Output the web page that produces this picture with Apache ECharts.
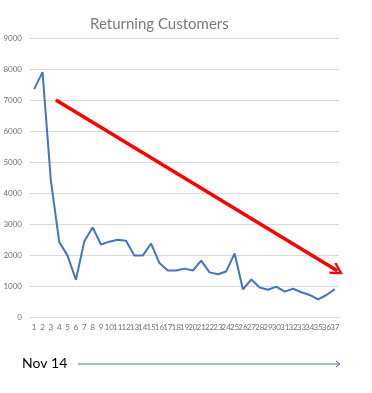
<!DOCTYPE html>
<html><head><meta charset="utf-8">
<script src="https://cdn.jsdelivr.net/npm/echarts@6/dist/echarts.min.js"></script>
<style>html,body{margin:0;padding:0;background:#fff}#c{width:372px;height:393px}</style>
</head><body><div id="c"></div>
<script>
var categories = ['1','2','3','4','5','6','7','8','9','10','11','12','13','14','15','16','17','18','19','20','21','22','23','24','25','26','27','28','29','30','31','32','33','34','35','36','37'];
var customers = [7350,7900,4400,2420,1980,1200,2440,2890,2340,2430,2490,2460,1980,1980,2370,1740,1500,1500,1560,1500,1820,1440,1380,1470,2050,890,1210,950,880,980,820,910,800,710,570,710,900];
var yTicks = [0,1000,2000,3000,4000,5000,6000,7000,8000,9000];
var trendStart = [3.6, 7000];
var trendEnd = [37.3, 1490];
var titleText = 'Returning Customers';
var periodText = 'Nov 14';

var chart = echarts.init(document.getElementById('c'), null, {renderer:'canvas'});
var arrowPath = 'path://M0,0 L10,13 L7.5,15 L0,5 L-7.5,15 L-10,13 Z';
chart.setOption({
  animation:false,
  title:{text:titleText, left:85, top:12,
    textStyle:{fontFamily:'Lato', fontSize:15, fontWeight:'normal', color:'#7a7a7a'}},
  grid:{left:30, right:33, top:38, bottom:76},
  xAxis:[{type:'category', data:categories, boundaryGap:true,
    axisLine:{show:true, lineStyle:{color:'#d9d9d9'}}, axisTick:{show:false},
    axisLabel:{interval:0, fontSize:8, color:'#707070', margin:6, fontFamily:'Lato'}},
    {type:'value', min:0.5, max:37.5, show:false}],
  yAxis:{type:'value', min:yTicks[0], max:yTicks[yTicks.length-1], interval:1000,
    axisLine:{show:false}, axisTick:{show:false},
    splitLine:{lineStyle:{color:'#d9d9d9', width:1}},
    axisLabel:{fontSize:8, color:'#707070', margin:8, fontFamily:'Lato',
      formatter:function(v){return String(v);}}},
  series:[
    {type:'line', data:customers, showSymbol:false, symbol:'none',
      lineStyle:{color:'#4472C4', width:2}, itemStyle:{color:'#4472C4'}},
    {type:'line', xAxisIndex:1, data:[trendStart, trendEnd], symbol:'none',
      lineStyle:{opacity:0},
      markLine:{silent:true, symbol:['none', arrowPath], symbolSize:[13,13],
        label:{show:false},
        lineStyle:{color:'#FF0000', width:3.5, type:'solid'},
        data:[[{coord:trendStart},{coord:trendEnd}]]}}
  ],
  graphic:[
    {type:'text', left:22, top:356, style:{text:periodText, font:'14px Lato', fill:'#000'}},
    {type:'line', shape:{x1:78, y1:364, x2:340, y2:364}, style:{stroke:'#4472C4', lineWidth:1}},
    {type:'polyline', shape:{points:[[336,361],[340,364],[336,367]]}, style:{stroke:'#4472C4', lineWidth:1, fill:null}}
  ]
});
</script></body></html>
